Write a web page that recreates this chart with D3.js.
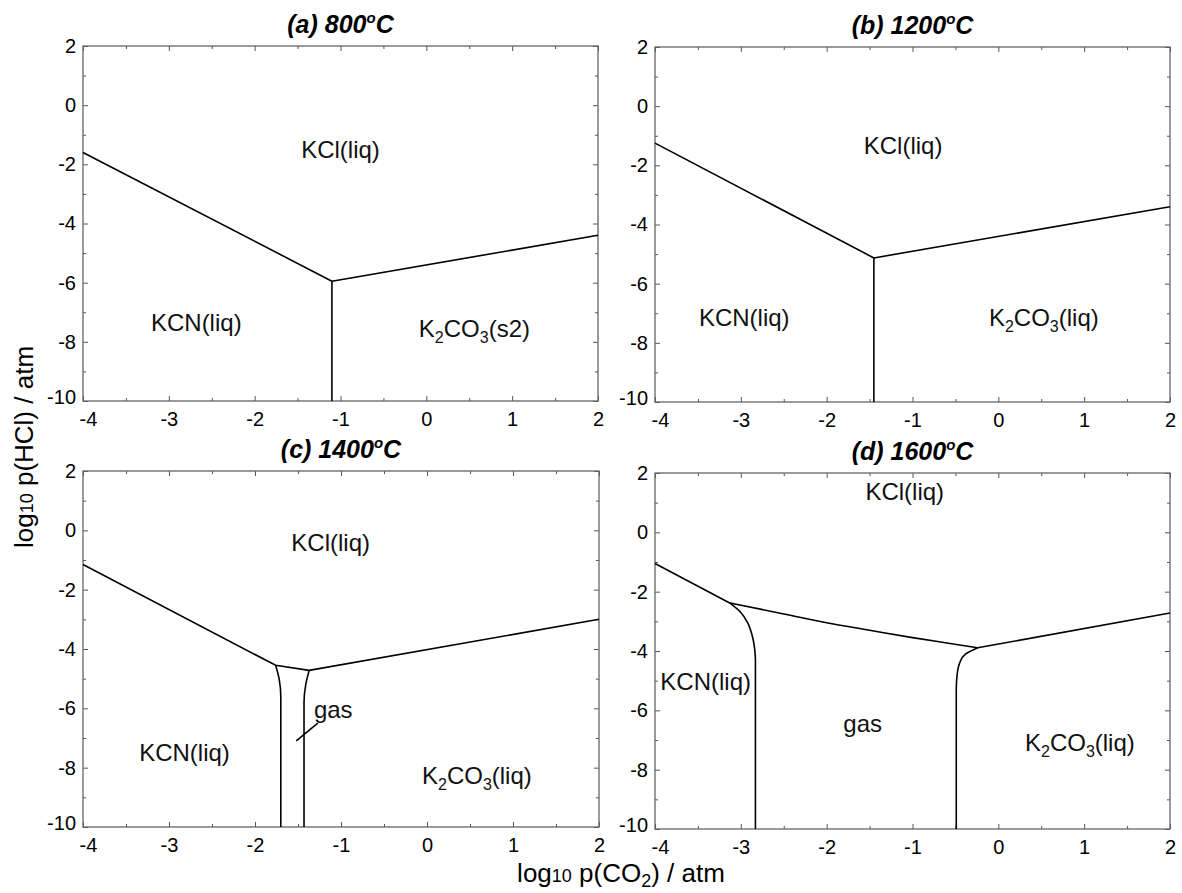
<!DOCTYPE html>
<html lang="en">
<head>
<meta charset="UTF-8">
<script src="https://cdn.jsdelivr.net/npm/d3@7/dist/d3.min.js"></script>
<title>KCl-KCN-K2CO3 predominance</title>
<style>
  body { margin: 0; background: #fff; }
  svg { font-family: "Liberation Sans", Arial, sans-serif; }
</style>
</head>
<body>
<svg id="chart" width="1182" height="893"></svg>
<script>
// ---- data ----
const xTicks = [-4, -3, -2, -1, 0, 1, 2];
const yTicks = [2, 0, -2, -4, -6, -8, -10];
const xMinor = [-3.5, -2.5, -1.5, -0.5, 0.5, 1.5];
const yMinor = [1, -1, -3, -5, -7, -9];
const titles = ['(a) 800^oC', '(b) 1200^oC', '(c) 1400^oC', '(d) 1600^oC'];

// (a) 800 C
const aKclKcn = [[-4, -1.6], [-1.1, -5.95]];
const aKclK2co3 = [[-1.1, -5.95], [2, -4.4]];
const aKcnK2co3 = [[-1.1, -5.95], [-1.1, -10]];
// (b) 1200 C
const bKclKcn = [[-4, -1.25], [-1.45, -5.13]];
const bKclK2co3 = [[-1.45, -5.13], [2, -3.4]];
const bKcnK2co3 = [[-1.45, -5.13], [-1.45, -10]];
// (c) 1400 C
const cKclTop = [[-4, -1.15], [-1.76, -4.55], [-1.37, -4.72], [2, -3.0]];
const cKcnGas = [[-1.76, -4.55], [-1.72, -5.0], [-1.70, -5.6], [-1.70, -10]];
const cGasK2co3 = [[-1.37, -4.72], [-1.41, -5.2], [-1.43, -5.8], [-1.43, -10]];
const cGasLeader = [[-1.27, -6.5], [-1.52, -7.1]];
// (d) 1600 C
const dKclKcn = [[-4, -1.05], [-3.13, -2.38]];
const dKclGas = [[-3.13, -2.38], [-2.5, -2.75], [-2.0, -3.05], [-1.5, -3.3], [-1.0, -3.55], [-0.6, -3.73], [-0.24, -3.89]];
const dKclK2co3 = [[-0.24, -3.89], [2, -2.72]];
const dKcnGas = [[-3.13, -2.38], [-3.0, -2.7], [-2.92, -3.05], [-2.87, -3.45], [-2.84, -3.9], [-2.83, -4.3], [-2.83, -10]];
const dGasK2co3 = [[-0.24, -3.89], [-0.38, -4.1], [-0.45, -4.4], [-0.48, -4.8], [-0.49, -5.3], [-0.49, -10]];

// phase labels: text, x, y (baseline)
const aLabels = [['KCl(liq)', -1.0, -1.8], ['KCN(liq)', -2.68, -7.64], ['K_2CO_3(s2)', 0.56, -7.84]];
const bLabels = [['KCl(liq)', -1.11, -1.6], ['KCN(liq)', -2.96, -7.44], ['K_2CO_3(liq)', 0.53, -7.44]];
const cLabels = [['KCl(liq)', -1.12, -0.7], ['KCN(liq)', -2.82, -7.78], ['gas', -1.09, -6.34], ['K_2CO_3(liq)', 0.58, -8.55]];
const dLabels = [['KCl(liq)', -1.09, 1.1], ['KCN(liq)', -3.41, -5.3], ['gas', -1.58, -6.73], ['K_2CO_3(liq)', 0.95, -7.38]];

// ---- layout ----
const panels = [
  { box: [83, 46, 598, 401], title: titles[0], straight: [aKclKcn, aKclK2co3, aKcnK2co3], labels: aLabels },
  { box: [655, 47, 1170, 402], title: titles[1], straight: [bKclKcn, bKclK2co3, bKcnK2co3], labels: bLabels },
  { box: [83, 471, 599, 827], title: titles[2], straight: [cKclTop, cGasLeader], curvedY: [cKcnGas, cGasK2co3], labels: cLabels },
  { box: [655, 473, 1170, 829], title: titles[3], straight: [dKclKcn, dKclK2co3], curved: [dKclGas], curvedY: [dKcnGas, dGasK2co3], labels: dLabels }
];

const svg = d3.select('#chart');
svg.append('rect').attr('width', 1182).attr('height', 893).attr('fill', '#fff');

// text with _n subscripts and ^o superscripts
function rich(t, str, subSize, supShift) {
  const parts = str.split(/([_^][0-9o])/);
  let shift = 0;
  parts.forEach(p => {
    if (!p) return;
    if (p[0] === '_' || p[0] === '^') {
      const s = p[0] === '_' ? 6 : -supShift;
      t.append('tspan').attr('font-size', subSize).attr('dy', s - shift).text(p[1]);
      shift = s;
    } else {
      t.append('tspan').attr('dy', -shift).text(p);
      shift = 0;
    }
  });
}

const fmt = d => String(d);   // plain hyphen, like the original

panels.forEach(p => {
  const [x0, y0, x1, y1] = p.box;
  const x = d3.scaleLinear().domain([-4, 2]).range([x0, x1]);
  const y = d3.scaleLinear().domain([-10, 2]).range([y1, y0]);
  const g = svg.append('g');

  // inward ticks on all four sides
  const axes = [
    [d3.axisBottom(x), y1, 0, true], [d3.axisTop(x), y0, 0, false],
    [d3.axisLeft(y), 0, x0, true], [d3.axisRight(y), 0, x1, false]
  ];
  axes.forEach(([ax, ty, tx, lab], i) => {
    const isX = i < 2;
    const major = g.append('g').attr('transform', `translate(${tx},${ty})`)
      .call(ax.tickValues(isX ? xTicks : yTicks).tickSizeInner(-5).tickSizeOuter(0)
        .tickPadding(isX ? 11 : 7).tickFormat(lab ? fmt : ''));
    const minor = g.append('g').attr('transform', `translate(${tx},${ty})`)
      .call(ax.tickValues(isX ? xMinor : yMinor).tickSizeInner(-3).tickSizeOuter(0).tickFormat(''));
    [major, minor].forEach(s => {
      s.select('.domain').remove();
      s.selectAll('line').attr('stroke', '#555');
      s.selectAll('text').attr('font-size', 20).attr('fill', '#000')
        .attr('font-family', '"Liberation Sans", Arial, sans-serif');
    });
    // end labels nudged inward as in the original
    if (lab && isX) major.selectAll('.tick').filter(d => d === -4).select('text').attr('dx', 5);
    if (lab && !isX) major.selectAll('.tick').filter(d => d === -10).select('text').attr('dy', '0.1em');
  });
  g.append('rect').attr('x', x0).attr('y', y0).attr('width', x1 - x0).attr('height', y1 - y0)
    .attr('fill', 'none').attr('stroke', '#666').attr('stroke-width', 1.3);

  // phase boundaries
  const lin = d3.line().x(d => x(d[0])).y(d => y(d[1]));
  const cx = d3.line().x(d => x(d[0])).y(d => y(d[1])).curve(d3.curveMonotoneX);
  const cy = d3.line().x(d => x(d[0])).y(d => y(d[1])).curve(d3.curveMonotoneY);
  p.straight.forEach(l => g.append('path').attr('d', lin(l)).attr('fill', 'none')
    .attr('stroke', '#000').attr('stroke-width', 1.6));
  (p.curved || []).forEach(l => g.append('path').attr('d', cx(l)).attr('fill', 'none')
    .attr('stroke', '#000').attr('stroke-width', 1.6));
  (p.curvedY || []).forEach(l => g.append('path').attr('d', cy(l)).attr('fill', 'none')
    .attr('stroke', '#000').attr('stroke-width', 1.6));

  // labels
  p.labels.forEach(([txt, lx, ly]) => {
    const t = g.append('text').attr('x', x(lx)).attr('y', y(ly))
      .attr('text-anchor', 'middle').attr('font-size', 24).attr('fill', '#111');
    rich(t, txt, 16, 9);
  });

  // title
  const tt = g.append('text').attr('x', (x0 + x1) / 2).attr('y', y0 - 13)
    .attr('text-anchor', 'middle').attr('font-size', 25).attr('font-weight', 'bold')
    .attr('font-style', 'italic').attr('fill', '#000');
  rich(tt, p.title, 15, 10);
});

// axis titles
const xt = svg.append('text').attr('x', 621).attr('y', 882).attr('text-anchor', 'middle')
  .attr('font-size', 26).attr('fill', '#000');
xt.append('tspan').text('log');
xt.append('tspan').attr('font-size', 18).text('10');
xt.append('tspan').text(' p(CO');
xt.append('tspan').attr('font-size', 18).attr('dy', 5).text('2');
xt.append('tspan').attr('dy', -5).text(') / atm');

const yt = svg.append('text').attr('transform', 'translate(33,447) rotate(-90)')
  .attr('text-anchor', 'middle').attr('font-size', 26).attr('fill', '#000');
yt.append('tspan').text('log');
yt.append('tspan').attr('font-size', 18).text('10');
yt.append('tspan').text(' p(HCl) / atm');
</script>
</body>
</html>
